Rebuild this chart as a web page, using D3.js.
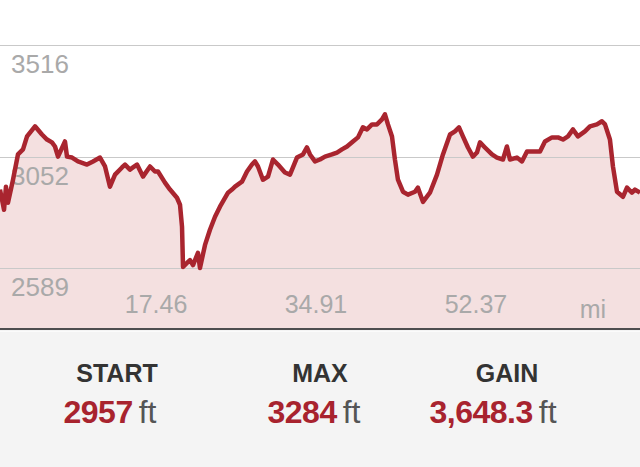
<!DOCTYPE html>
<html>
<head>
<meta charset="utf-8">
<script src="https://cdn.jsdelivr.net/npm/d3@7"></script>
<style>
  html, body { margin: 0; padding: 0; background: #ffffff; }
  svg { display: block; }
</style>
</head>
<body>
<svg id="chart" width="640" height="467"></svg>
<script>
// ---- data ----
const distanceMi = [0.00,0.44,0.65,0.87,1.42,1.96,2.51,2.95,3.82,4.58,5.13,5.67,6.00,6.33,7.09,7.31,7.86,8.51,9.49,10.15,10.91,11.46,12.00,12.55,13.31,13.64,14.18,14.51,14.95,15.60,16.37,16.91,17.24,18.00,18.55,19.31,19.64,19.86,19.97,20.40,20.73,21.06,21.60,21.82,22.37,22.91,23.46,24.00,24.88,25.31,25.64,26.40,26.95,27.49,27.82,28.15,28.69,29.24,29.78,30.33,31.09,31.64,32.40,33.06,33.49,33.82,34.37,34.91,35.46,36.22,36.77,37.31,37.86,38.51,39.06,39.60,40.04,40.59,41.13,41.68,42.00,42.33,42.77,43.09,43.42,43.97,44.51,45.28,45.60,46.15,46.91,47.68,48.33,49.10,49.64,50.08,50.51,51.06,51.60,52.04,52.37,52.91,53.68,54.22,54.88,55.31,55.64,56.40,56.95,57.50,58.15,58.92,59.46,60.23,60.88,61.43,61.97,62.52,63.06,63.82,64.37,65.13,65.68,66.01,66.55,66.88,67.32,67.97,68.41,68.95,69.28,69.83];
const elevationFt = [2915,2831,2927,2860,2956,3061,3082,3136,3178,3144,3123,3111,3094,3052,3115,3052,3048,3032,3019,3032,3048,3011,2927,2977,3007,3019,2998,3007,3019,2969,3011,2990,2990,2944,2915,2881,2852,2760,2593,2610,2622,2601,2652,2589,2685,2748,2802,2844,2902,2915,2927,2948,2990,3019,3032,3011,2956,2969,3040,3019,2986,2977,3048,3061,3090,3061,3032,3040,3052,3061,3069,3082,3094,3115,3132,3174,3165,3186,3186,3207,3228,3186,3136,3040,2956,2906,2894,2906,2923,2864,2902,2977,3061,3144,3157,3174,3136,3090,3052,3069,3111,3090,3061,3048,3040,3094,3040,3048,3032,3073,3073,3073,3115,3132,3132,3123,3136,3165,3136,3157,3178,3186,3199,3186,3123,3011,2906,2885,2923,2902,2915,2902];
const yTickValues = [2589, 3052, 3516];
const xTickValues = [17.46, 34.91, 52.37];
const xUnit = "mi";
const statTitles = ["START", "MAX", "GAIN"];
const statValues = ["2957", "3284", "3,648.3"];
const statUnit = "ft";

// ---- layout ----
const W = 640, H = 467;
const plotBottom = 328;
const svg = d3.select("#chart");

const x = d3.scaleLinear().domain([0, 69.83]).range([0, 640]);
const y = d3.scaleLinear().domain([2589, 3516]).range([268, 45]);

const pts = distanceMi.map((d, i) => ({ d, e: elevationFt[i] }));

// background
svg.append("rect").attr("x", 0).attr("y", 0).attr("width", W).attr("height", H).attr("fill", "#ffffff");

// area fill
svg.append("path")
  .datum(pts)
  .attr("fill", "#f4e0e0")
  .attr("d", d3.area().x(p => x(p.d)).y0(plotBottom).y1(p => y(p.e)));

// gridlines
svg.append("g").selectAll("line").data(yTickValues).join("line")
  .attr("x1", 0).attr("x2", W)
  .attr("y1", v => Math.round(y(v)) + 0.5).attr("y2", v => Math.round(y(v)) + 0.5)
  .attr("stroke", "#c9c9c9").attr("stroke-width", 1);

// y labels
svg.append("g").selectAll("text").data(yTickValues).join("text")
  .attr("x", 11).attr("y", v => y(v) + 28)
  .attr("font-family", "'Liberation Sans', Arial, sans-serif")
  .attr("font-size", 26).attr("fill", "#a9a9a9")
  .text(v => v);

// x labels
svg.append("g").selectAll("text").data(xTickValues).join("text")
  .attr("x", v => x(v) - 4).attr("y", 313)
  .attr("text-anchor", "middle")
  .attr("font-family", "'Liberation Sans', Arial, sans-serif")
  .attr("font-size", 25).attr("fill", "#a9a9a9")
  .text(v => v.toFixed(2));
svg.append("text")
  .attr("x", 593).attr("y", 318).attr("text-anchor", "middle")
  .attr("font-family", "'Liberation Sans', Arial, sans-serif")
  .attr("font-size", 25).attr("fill", "#a9a9a9")
  .text(xUnit);

// elevation line
svg.append("path")
  .datum(pts)
  .attr("fill", "none")
  .attr("stroke", "#a9252f")
  .attr("stroke-width", 4.5)
  .attr("stroke-linejoin", "round")
  .attr("d", d3.line().x(p => x(p.d)).y(p => y(p.e)));

// bottom panel
svg.append("rect").attr("x", 0).attr("y", plotBottom).attr("width", W).attr("height", H - plotBottom).attr("fill", "#f4f4f4");
svg.append("rect").attr("x", 0).attr("y", plotBottom).attr("width", W).attr("height", 2).attr("fill", "#4d4d4f");
svg.append("rect").attr("x", 0).attr("y", plotBottom + 3).attr("width", W).attr("height", 1).attr("fill", "#fbfbfb");

// stats
const titleX = [117, 320, 507];
const valueX = [110, 314, 493];
svg.append("g").selectAll("text").data(statTitles).join("text")
  .attr("x", (d, i) => titleX[i]).attr("y", 382)
  .attr("text-anchor", "middle")
  .attr("font-family", "'Liberation Sans', Arial, sans-serif")
  .attr("font-weight", "bold").attr("font-size", 25).attr("fill", "#333333")
  .text(d => d);

const vals = svg.append("g").selectAll("text").data(statValues).join("text")
  .attr("x", (d, i) => valueX[i]).attr("y", 423)
  .attr("text-anchor", "middle")
  .attr("font-family", "'Liberation Sans', Arial, sans-serif")
  .attr("font-size", 32);
vals.append("tspan").attr("font-weight", "bold").attr("fill", "#a8232e").attr("letter-spacing", -0.5).text(d => d);
vals.append("tspan").attr("fill", "#555555").attr("dx", 6).text(statUnit);
</script>
</body>
</html>
